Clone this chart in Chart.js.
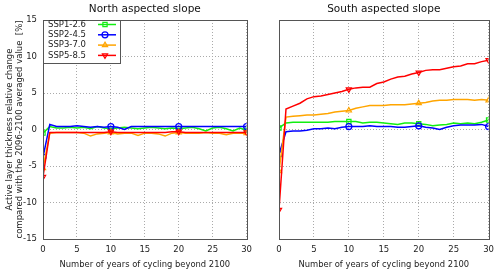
<!DOCTYPE html>
<html lang="en">
<head>
    <meta charset="UTF-8">
    <title>Active layer thickness relative change</title>
    <script src="https://cdn.jsdelivr.net/npm/chart.js"></script>
    <style>
        body { margin: 0; background: #fff; }
        #wrap { position: relative; width: 500px; height: 274px; }
        #north { position: absolute; left: 0; top: 0; }
        #south { position: absolute; left: 258px; top: 0; }
    </style>
</head>
<body>
    <div id="wrap">
        <canvas id="north" width="258" height="274"></canvas>
        <canvas id="south" width="242" height="274"></canvas>
    </div>

    <script>
        const years = [0, 1, 2, 3, 4, 5, 6, 7, 8, 9, 10, 11, 12, 13, 14, 15, 16, 17, 18, 19, 20, 21, 22, 23, 24, 25, 26, 27, 28, 29, 30];
        const scenarios = ['SSP1-2.6', 'SSP2-4.5', 'SSP3-7.0', 'SSP5-8.5'];
        const yTicks = [-15, -10, -5, 0, 5, 10, 15];
        const xTicks = [0, 5, 10, 15, 20, 25, 30];

        // north aspected slope
        const northSsp126 = [-0.5, 0.4, 0.2, 0.2, 0.3, 0.2, 0.3, 0.1, 0.4, 0.2, 0.1, 0.2, 0.3, 0.2, 0.1, 0.2, 0.3, 0.2, 0.1, 0.2, 0.1, 0.2, 0.3, 0.1, -0.2, 0.2, 0.3, 0.1, -0.2, 0.2, -0.1];
        const northSsp245 = [-3.8, 0.7, 0.4, 0.4, 0.4, 0.5, 0.4, 0.3, 0.4, 0.3, 0.4, 0.3, 0.0, 0.4, 0.4, 0.4, 0.4, 0.4, 0.4, 0.4, 0.4, 0.4, 0.4, 0.4, 0.4, 0.4, 0.4, 0.4, 0.4, 0.4, 0.4];
        const northSsp370 = [-5.3, -0.5, -0.4, -0.4, -0.4, -0.4, -0.5, -0.9, -0.6, -0.5, -0.4, -0.6, -0.5, -0.5, -0.8, -0.5, -0.5, -0.6, -0.9, -0.5, -0.4, -0.5, -0.5, -0.5, -0.4, -0.5, -0.5, -0.7, -0.5, -0.5, -0.5];
        const northSsp585 = [-6.5, -0.4, -0.4, -0.4, -0.4, -0.4, -0.4, -0.4, -0.4, -0.4, -0.3, -0.4, -0.4, -0.4, -0.4, -0.4, -0.4, -0.4, -0.4, -0.3, -0.3, -0.4, -0.4, -0.4, -0.4, -0.4, -0.4, -0.4, -0.4, -0.4, -0.4];

        // south aspected slope
        const southSsp126 = [0.2, 0.9, 1.0, 1.0, 1.0, 1.0, 1.0, 1.0, 1.1, 1.1, 1.1, 1.1, 0.9, 1.0, 1.0, 0.9, 0.8, 0.7, 0.9, 0.9, 0.8, 0.7, 0.5, 0.6, 0.7, 0.9, 0.8, 0.9, 0.8, 1.0, 1.3];
        const southSsp245 = [-3.4, -0.3, -0.2, -0.2, -0.1, 0.1, 0.1, 0.2, 0.1, 0.3, 0.4, 0.4, 0.4, 0.5, 0.4, 0.4, 0.4, 0.3, 0.3, 0.4, 0.5, 0.3, 0.2, 0.0, 0.3, 0.5, 0.6, 0.6, 0.6, 0.7, 0.4];
        const southSsp370 = [-5.7, 1.7, 1.8, 1.9, 2.0, 2.0, 2.1, 2.2, 2.4, 2.5, 2.6, 2.9, 3.1, 3.3, 3.3, 3.3, 3.4, 3.4, 3.4, 3.5, 3.6, 3.7, 3.9, 4.0, 4.0, 4.1, 4.1, 4.1, 4.0, 4.1, 4.0];
        const southSsp585 = [-11.0, 2.8, 3.2, 3.6, 4.2, 4.5, 4.6, 4.8, 5.0, 5.2, 5.5, 5.7, 5.8, 5.8, 6.3, 6.5, 6.9, 7.2, 7.3, 7.6, 7.8, 8.1, 8.2, 8.2, 8.4, 8.6, 8.7, 9.0, 9.0, 9.3, 9.5];

        const colors = ['#11ee11', '#0000ff', '#ffa500', '#ff0000'];
        const markers = ['rect', 'circle', 'triangle', 'triangle'];
        const rotations = [0, 0, 0, 180];
        const fontName = "'DejaVu Sans', sans-serif";

        function makeDatasets(series) {
            return series.map((vals, i) => ({
                label: scenarios[i],
                data: years.map((x, j) => ({ x: x, y: vals[j] })),
                borderColor: colors[i],
                borderWidth: 1.5,
                pointStyle: markers[i],
                rotation: rotations[i],
                pointRadius: ctx => ctx.dataIndex % 10 === 0 ? 3 : 0,
                pointBorderWidth: 1.2,
                pointBorderColor: colors[i],
                pointBackgroundColor: 'rgba(0,0,0,0)',
                tension: 0,
                order: 4 - i
            }));
        }

        // full box around the plot, like gnuplot
        const framePlugin = {
            id: 'frame',
            afterDatasetsDraw(chart) {
                const a = chart.chartArea;
                const ctx = chart.ctx;
                ctx.save();
                ctx.strokeStyle = '#555';
                ctx.lineWidth = 1;
                ctx.strokeRect(Math.round(a.left) + 0.5, Math.round(a.top) + 0.5, Math.round(a.right - a.left), Math.round(a.bottom - a.top));
                ctx.restore();
            }
        };

        // key box in the upper left corner
        const keyPlugin = {
            id: 'key',
            afterDraw(chart) {
                if (!chart.options.plugins.key || !chart.options.plugins.key.show) return;
                const a = chart.chartArea;
                const ctx = chart.ctx;
                const x0 = Math.round(a.left) + 0.5, y0 = Math.round(a.top) + 0.5;
                ctx.save();
                ctx.fillStyle = '#fff';
                ctx.fillRect(x0, y0, 77, 43);
                ctx.strokeStyle = '#555';
                ctx.lineWidth = 1;
                ctx.strokeRect(x0, y0, 77, 43);
                ctx.font = '8.5px ' + fontName;
                ctx.textBaseline = 'middle';
                chart.data.datasets.forEach((ds, i) => {
                    const y = a.top + 4.5 + i * 10.3;
                    ctx.fillStyle = '#222';
                    ctx.textAlign = 'left';
                    ctx.fillText(ds.label, a.left + 5, y);
                    ctx.strokeStyle = ds.borderColor;
                    ctx.lineWidth = 1.5;
                    ctx.beginPath();
                    ctx.moveTo(a.left + 55, y);
                    ctx.lineTo(a.left + 73, y);
                    ctx.stroke();
                    ctx.lineWidth = 1.2;
                    ctx.fillStyle = 'rgba(0,0,0,0)';
                    Chart.helpers.drawPoint(ctx, { pointStyle: ds.pointStyle, rotation: ds.rotation, radius: 3, borderWidth: 1.2 }, a.left + 62, y);
                });
                ctx.restore();
            }
        };

        function makeChart(id, title, series, leftWidth, rightPad, showY, showKey) {
            return new Chart(document.getElementById(id), {
                type: 'line',
                data: { datasets: makeDatasets(series) },
                plugins: [framePlugin, keyPlugin],
                options: {
                    responsive: false,
                    animation: false,
                    layout: { padding: { left: 0, right: rightPad, top: 0, bottom: 0 } },
                    plugins: {
                        legend: { display: false },
                        tooltip: { enabled: false },
                        key: { show: showKey },
                        title: {
                            display: true,
                            text: title,
                            fullSize: false,
                            color: '#111',
                            font: { family: fontName, size: 10.5, weight: 'normal' },
                            padding: { top: 3, bottom: 4.4 }
                        }
                    },
                    scales: {
                        x: {
                            type: 'linear',
                            min: 0,
                            max: 30,
                            afterBuildTicks: scale => { scale.ticks = xTicks.map(v => ({ value: v })); },
                            afterFit: scale => { scale.height = 35; },
                            grid: { color: '#aaa', drawTicks: false },
                            border: { color: '#555', dash: [1, 2] },
                            ticks: { padding: 6, color: '#222', maxRotation: 0, font: { family: fontName, size: 8.5 } },
                            title: {
                                display: true,
                                text: 'Number of years of cycling beyond 2100',
                                color: '#222',
                                font: { family: fontName, size: 8.4 },
                                padding: { top: 2, bottom: 4 }
                            }
                        },
                        y: {
                            type: 'linear',
                            min: -15,
                            max: 15,
                            afterBuildTicks: scale => { scale.ticks = yTicks.map(v => ({ value: v })); },
                            afterFit: scale => { scale.width = leftWidth; },
                            grid: { color: '#aaa', drawTicks: false },
                            border: { color: '#555', dash: [1, 2] },
                            ticks: { display: showY, padding: 6, color: '#222', font: { family: fontName, size: 8.5 } },
                            title: {
                                display: showY,
                                text: ['Active layer thickness relative change', 'compared with the 2096-2100 averaged value  [%]'],
                                color: '#222',
                                font: { family: fontName, size: 8.5, lineHeight: 1.25 },
                                padding: { top: 4, bottom: 0 }
                            }
                        }
                    }
                }
            });
        }

        makeChart('north', 'North aspected slope', [northSsp126, northSsp245, northSsp370, northSsp585], 43, 5, true, true);
        makeChart('south', 'South aspected slope', [southSsp126, southSsp245, southSsp370, southSsp585], 21, 11, false, false);
    </script>
</body>
</html>
